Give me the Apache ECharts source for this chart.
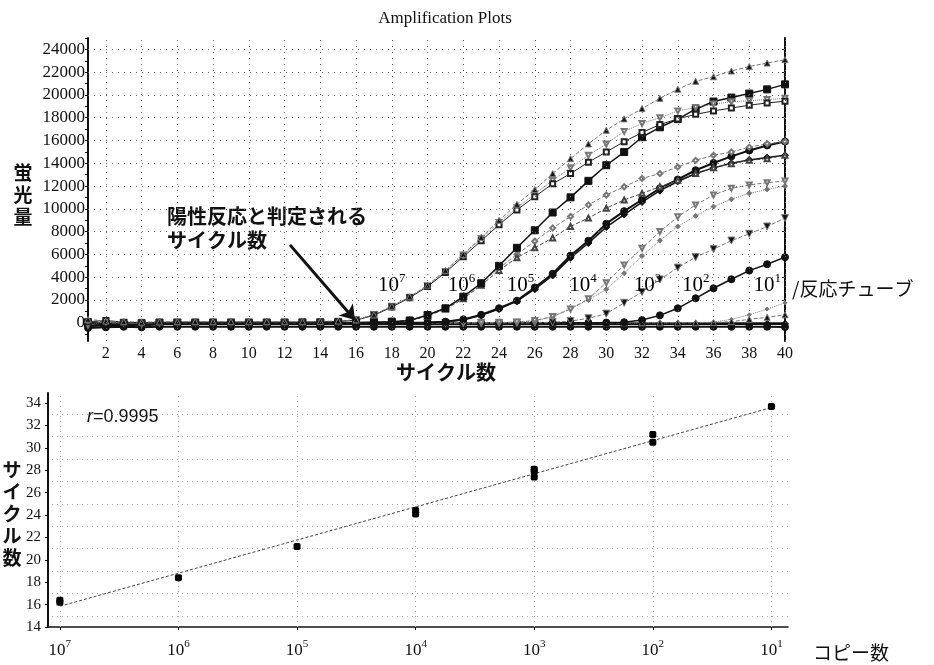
<!DOCTYPE html>
<html>
<head>
<meta charset="utf-8">
<script src="https://cdn.jsdelivr.net/npm/echarts@6/dist/echarts.min.js"></script>
<style>
html, body { margin: 0; padding: 0; background: #fff; }
#chart { width: 934px; height: 665px; }
</style>
</head>
<body>
<div id="chart"></div>
<script>
// amplification plot: cycle number vs fluorescence
const cycles = [1,2,3,4,5,6,7,8,9,10,11,12,13,14,15,16,17,18,19,20,21,22,23,24,25,26,27,28,29,30,31,32,33,34,35,36,37,38,39,40];
const cycleLabels = [2,4,6,8,10,12,14,16,18,20,22,24,26,28,30,32,34,36,38,40];
const fluorLabels = [0,2000,4000,6000,8000,10000,12000,14000,16000,18000,20000,22000,24000];

// 10^7 copies
const s7a = [300,150,100,50,80,100,100,100,100,100,100,100,100,120,150,250,700,1450,2280,3300,4600,6000,7500,9000,10400,11700,13100,14400,15700,16900,17900,18800,19700,20500,21200,21600,22100,22500,22800,23100];
const s7b = [100,200,50,0,50,50,50,50,50,50,50,50,60,80,120,230,650,1380,2200,3180,4420,5800,7200,8610,9910,11070,12200,13100,14100,15000,15900,16700,17400,17900,18300,18600,18850,19100,19300,19450];
const s7c = [-200,100,0,-100,0,50,50,50,50,50,50,50,60,90,140,260,720,1450,2250,3250,4500,5950,7400,8800,10100,11300,12500,13600,14700,15700,16800,17500,18000,18600,18900,19200,19400,19500,19600,19700];
// 10^6
const s6a = [0,-100,-150,-100,0,0,0,0,0,0,0,0,0,0,0,0,50,100,200,680,1270,2290,3470,5000,6580,8120,9680,11010,12460,13830,14990,16290,17160,17880,18750,19420,19770,20120,20490,20930];
const s6b = [0,100,0,-50,0,0,0,0,0,0,0,0,0,0,0,0,30,80,180,600,1200,2100,3300,4600,5710,6580,7450,8460,9190,10060,10780,11360,11940,12520,13100,13600,13970,14260,14410,14700];
const s6c = [200,0,-100,0,0,0,0,0,0,0,0,0,0,0,0,0,40,90,220,650,1300,2300,3500,4800,6000,7160,8320,9330,10350,11220,11940,12670,13100,13680,14260,14700,14990,15420,15710,15910];
// 10^5
const s5a = [0,-200,-250,-200,-100,0,0,0,0,0,0,0,0,0,0,0,0,0,0,30,100,300,700,1280,1940,3100,4300,5900,7200,8700,9800,10800,11800,12580,13390,14030,14610,15130,15570,15910];
const s5b = [-300,-100,-200,-250,-150,-50,0,0,0,0,0,0,0,0,0,0,0,0,0,20,80,250,650,1200,1900,2950,4150,5700,7000,8400,9500,10600,11600,12400,13100,13600,14000,14300,14500,14700];
// 10^4
const s4a = [100,-100,0,-50,0,0,0,0,0,0,0,0,0,0,0,0,0,0,0,0,0,0,0,20,60,200,550,1200,2100,3520,5080,6550,8010,9300,10350,11220,11800,12100,12300,12450];
const s4b = [-100,0,50,0,0,0,0,0,0,0,0,0,0,0,0,0,0,0,0,0,0,0,0,0,40,150,530,1270,2000,2940,4350,5870,7220,8450,9390,10200,10840,11360,11710,12000];
// 10^3
const s3a = [0,-150,-100,0,0,0,0,0,0,0,0,0,0,0,0,0,0,0,0,0,0,0,0,0,0,0,50,150,390,800,1750,2700,3800,4840,5760,6460,7220,7810,8450,9190];
// 10^2
const s2a = [-200,-300,-250,-150,-100,-50,0,0,0,0,0,0,0,0,0,0,0,0,0,0,0,0,0,0,0,0,0,0,0,20,50,240,650,1270,2150,3030,3820,4580,5140,5760];
// 10^1
const s1a = [150,-50,0,0,0,0,0,0,0,0,0,0,0,0,0,0,0,0,0,0,0,0,0,0,0,0,0,0,0,0,0,0,0,0,0,20,100,300,480,700];
const s1b = [-50,50,0,0,0,0,0,0,0,0,0,0,0,0,0,0,0,0,0,0,0,0,0,0,0,0,0,0,0,0,0,0,0,0,0,60,300,700,1200,1750];
// flat (negative) tubes
const neg1 = [-300,-200,-150,-100,-100,-100,-100,-100,-100,-100,-100,-100,-100,-100,-100,-100,-100,-100,-100,-100,-100,-100,-100,-100,-100,-100,-100,-100,-100,-100,-100,-100,-100,-100,-100,-100,-100,-100,-100,-100];
const neg2 = [-450,-400,-350,-400,-350,-350,-350,-350,-350,-350,-350,-350,-350,-350,-350,-350,-350,-350,-350,-350,-350,-350,-350,-350,-350,-350,-350,-350,-350,-350,-350,-350,-350,-350,-350,-350,-350,-350,-350,-380];

// copy-number labels on the curves
const labelExp = [7,6,5,4,3,2,1];
const labelCycle = [18.0,21.9,25.2,28.7,32.3,35.0,39.0];
const labelLevel = 3400;

// standard curve: log10 copies vs threshold cycle
const copyExp = [7,7,6,5,4,4,3,3,3,2,2,1];
const ctValues = [16.2,16.4,18.4,21.2,24.4,24.1,28.1,27.9,27.4,31.2,30.5,33.7];
const fitExp = [7,0.95];
const fitCt = [15.85,33.75];
const expTicks = [1,2,3,4,5,6,7];
const ctLabels = [14,16,18,20,22,24,26,28,30,32,34];
const ctGrid = [15,17,19,21,23,25,27,29,31,33];

const serif = 'Liberation Serif';
const jp = 'Noto Sans CJK JP';
const black = '#111';
const gray = '#777';

function curve(values, symbol, opts) {
  opts = opts || {};
  const empty = symbol.indexOf('empty') === 0;
  return {
    type: 'line',
    xAxisIndex: 0,
    yAxisIndex: 0,
    data: cycles.map((c, i) => [c, values[i]]),
    symbol: symbol,
    symbolSize: opts.size || 6,
    symbolRotate: opts.rotate || 0,
    showSymbol: true,
    // empty symbols are stroked with the item colour
    itemStyle: { color: empty ? (opts.color || black) : (opts.fill || black), borderColor: opts.color || black, borderWidth: 1, opacity: 1 },
    lineStyle: { color: opts.color || black, width: opts.width || 1, type: opts.dash || 'solid' },
    silent: true,
    z: opts.z || 3
  };
}

const myChart = echarts.init(document.getElementById('chart'));

const dotted = { color: '#666', width: 1, type: [1, 5] };
const dottedLight = { color: '#aaa', width: 1, type: [1, 4] };

let option = {
  animation: false,
  backgroundColor: '#fff',
  title: {
    text: 'Amplification Plots',
    left: 440,
    textAlign: 'center',
    top: 5,
    textStyle: { fontFamily: serif, fontSize: 17, fontWeight: 'normal', color: black }
  },
  grid: [
    { left: 88, right: 149, top: 38, bottom: 324 },
    { left: 48, right: 146, top: 393, bottom: 38 }
  ],
  xAxis: [
    {
      gridIndex: 0, type: 'value', min: 1, max: 40,
      axisLine: { lineStyle: { color: black, width: 1.5 } },
      axisTick: { customValues: cycles, length: 3, lineStyle: { color: black } },
      axisLabel: { customValues: cycleLabels, formatter: v => String(v), fontFamily: serif, fontSize: 16, color: black, margin: 5 },
      splitLine: { show: false }
    },
    {
      gridIndex: 1, type: 'value', min: 0.86, max: 7.1, inverse: true,
      axisLine: { lineStyle: { color: black, width: 1.5 } },
      axisTick: { customValues: expTicks, length: 3, lineStyle: { color: black } },
      axisLabel: {
        customValues: expTicks, margin: 12,
        formatter: v => '{b|10}{s|' + v + '}',
        rich: {
          b: { fontFamily: serif, fontSize: 17, color: black, lineHeight: 20, verticalAlign: 'bottom' },
          s: { fontFamily: serif, fontSize: 11, color: black, lineHeight: 20, verticalAlign: 'top' }
        }
      },
      splitLine: { show: false }
    }
  ],
  yAxis: [
    {
      gridIndex: 0, type: 'value', min: -1600, max: 25000,
      axisLine: { show: true, lineStyle: { color: black, width: 2 } },
      axisTick: { show: true, customValues: [-1000,0,1000,2000,3000,4000,5000,6000,7000,8000,9000,10000,11000,12000,13000,14000,15000,16000,17000,18000,19000,20000,21000,22000,23000,24000,25000], length: 3, lineStyle: { color: black } },
      axisLabel: { customValues: fluorLabels, formatter: v => String(v), fontFamily: serif, fontSize: 17, color: black, margin: 3 },
      splitLine: { show: false }
    },
    {
      gridIndex: 0, type: 'value', min: -1600, max: 25000, position: 'right',
      axisLine: { show: true, lineStyle: { color: black, width: 2 } },
      axisTick: { show: true, inside: true, customValues: fluorLabels, length: 3, lineStyle: { color: black } },
      axisLabel: { show: false },
      splitLine: { show: false }
    },
    {
      gridIndex: 1, type: 'value', min: 14, max: 34.9,
      axisLine: { show: true, lineStyle: { color: black, width: 2 } },
      axisTick: { show: true, customValues: ctLabels, length: 3, lineStyle: { color: black } },
      axisLabel: { customValues: ctLabels, formatter: v => String(v), fontFamily: serif, fontSize: 15, color: black, margin: 7 },
      splitLine: { show: false }
    }
  ],
  graphic: [
    { type: 'text', x: 23, y: 195, style: { text: '蛍\n光\n量', fontFamily: jp, fontSize: 19, fontWeight: 'bold', lineHeight: 22, fill: black, align: 'center', verticalAlign: 'middle' } },
    { type: 'text', x: 446, y: 372, style: { text: 'サイクル数', fontFamily: jp, fontSize: 20, fontWeight: 'bold', fill: black, align: 'center', verticalAlign: 'middle' } },
    { type: 'text', x: 167, y: 228, style: { text: '陽性反応と判定される\nサイクル数', fontFamily: jp, fontSize: 20, fontWeight: 'bold', lineHeight: 24, fill: black, align: 'left', verticalAlign: 'middle' } },
    { type: 'text', x: 792, y: 289, style: { text: '/反応チューブ', fontFamily: jp, fontSize: 19, fill: black, align: 'left', verticalAlign: 'middle' } },
    { type: 'text', x: 12, y: 514, style: { text: 'サ\nイ\nク\nル\n数', fontFamily: jp, fontSize: 19, fontWeight: 'bold', lineHeight: 22, fill: black, align: 'center', verticalAlign: 'middle' } },
    { type: 'text', x: 813, y: 653, style: { text: 'コピー数', fontFamily: jp, fontSize: 19, fill: black, align: 'left', verticalAlign: 'middle' } },
    { type: 'text', x: 87, y: 417, style: { text: '{i|r}=0.9995', rich: { i: { fontStyle: 'italic', fontFamily: 'Liberation Sans', fontSize: 18, fill: black } }, fontFamily: 'Liberation Sans', fontSize: 18, fill: black, align: 'left', verticalAlign: 'middle' } }
  ],
  series: [
    {
      // dotted grid of the amplification plot
      type: 'line', xAxisIndex: 0, yAxisIndex: 0, data: [[1, -1600]], symbol: 'none', silent: true,
      lineStyle: { opacity: 0 },
      markLine: {
        silent: true, symbol: 'none', label: { show: false }, lineStyle: dotted, animation: false,
        data: cycleLabels.map(v => ({ xAxis: v })).concat(fluorLabels.slice(1).map(v => ({ yAxis: v })))
      },
      z: 1
    },
    curve(neg1, 'diamond', { size: 7, width: 2 }),
    curve(neg2, 'circle', { size: 7, width: 2 }),
    curve(s1b, 'diamond', { size: 4, color: gray, fill: gray, dash: 'dotted' }),
    curve(s1a, 'triangle', { size: 6, color: gray, fill: black, dash: 'dashed' }),
    curve(s2a, 'circle', { size: 7, width: 1.5 }),
    curve(s3a, 'triangle', { size: 7, rotate: 180, color: gray, fill: black, dash: 'dashed' }),
    curve(s4b, 'diamond', { size: 5, color: gray, fill: gray, dash: 'dotted' }),
    curve(s4a, 'emptyTriangle', { size: 5, rotate: 180, color: gray, dash: 'dashed' }),
    curve(s5b, 'diamond', { size: 7, width: 1.5 }),
    curve(s5a, 'circle', { size: 7, width: 2 }),
    curve(s6c, 'emptyDiamond', { size: 5, color: gray, dash: 'dashed' }),
    curve(s6b, 'emptyTriangle', { size: 5, color: '#444', dash: 'dashed' }),
    curve(s6a, 'rect', { size: 7, width: 1.5 }),
    curve(s7c, 'emptyTriangle', { size: 5, rotate: 180, color: gray, dash: 'dotted' }),
    curve(s7b, 'emptyRect', { size: 5, color: '#222' }),
    curve(s7a, 'triangle', { size: 6, color: gray, fill: black, dash: 'dashed' }),
    {
      // copy-number labels and the arrow
      type: 'scatter', xAxisIndex: 0, yAxisIndex: 0, symbolSize: 0, silent: true,
      data: labelCycle.map((c, i) => [c, labelLevel, labelExp[i]]),
      itemStyle: { opacity: 1 },
      label: {
        show: true, position: 'inside', color: black, opacity: 1,
        formatter: p => '{b|10}{s|' + p.value[2] + '}',
        rich: {
          b: { fontFamily: serif, fontSize: 21, color: '#000', lineHeight: 24, verticalAlign: 'bottom' },
          s: { fontFamily: serif, fontSize: 13, color: '#000', lineHeight: 24, verticalAlign: 'top' }
        }
      },
      markLine: {
        silent: true, animation: false, symbol: ['none', 'arrow'], symbolSize: 14,
        label: { show: false },
        lineStyle: { color: black, width: 3, type: 'solid' },
        data: [[{ coord: [12.3, 6840] }, { coord: [15.94, 240] }]]
      },
      z: 6
    },
    {
      // dotted grid of the standard curve
      type: 'line', xAxisIndex: 1, yAxisIndex: 2, data: [[7, 14]], symbol: 'none', silent: true,
      lineStyle: { opacity: 0 },
      markLine: {
        silent: true, symbol: 'none', label: { show: false }, lineStyle: dottedLight, animation: false,
        data: expTicks.map(v => ({ xAxis: v })).concat(ctGrid.map(v => ({ yAxis: v })))
      },
      z: 1
    },
    {
      type: 'line', xAxisIndex: 1, yAxisIndex: 2, silent: true,
      data: fitExp.map((e, i) => [e, fitCt[i]]),
      symbol: 'none',
      lineStyle: { color: '#444', width: 1, type: [3, 2] }
    },
    {
      type: 'scatter', xAxisIndex: 1, yAxisIndex: 2, silent: true,
      data: copyExp.map((e, i) => [e, ctValues[i]]),
      symbol: 'roundRect', symbolSize: 7,
      itemStyle: { color: '#000', borderWidth: 0, opacity: 1 },
      z: 5
    }
  ]
};

myChart.setOption(option);
</script>
</body>
</html>
